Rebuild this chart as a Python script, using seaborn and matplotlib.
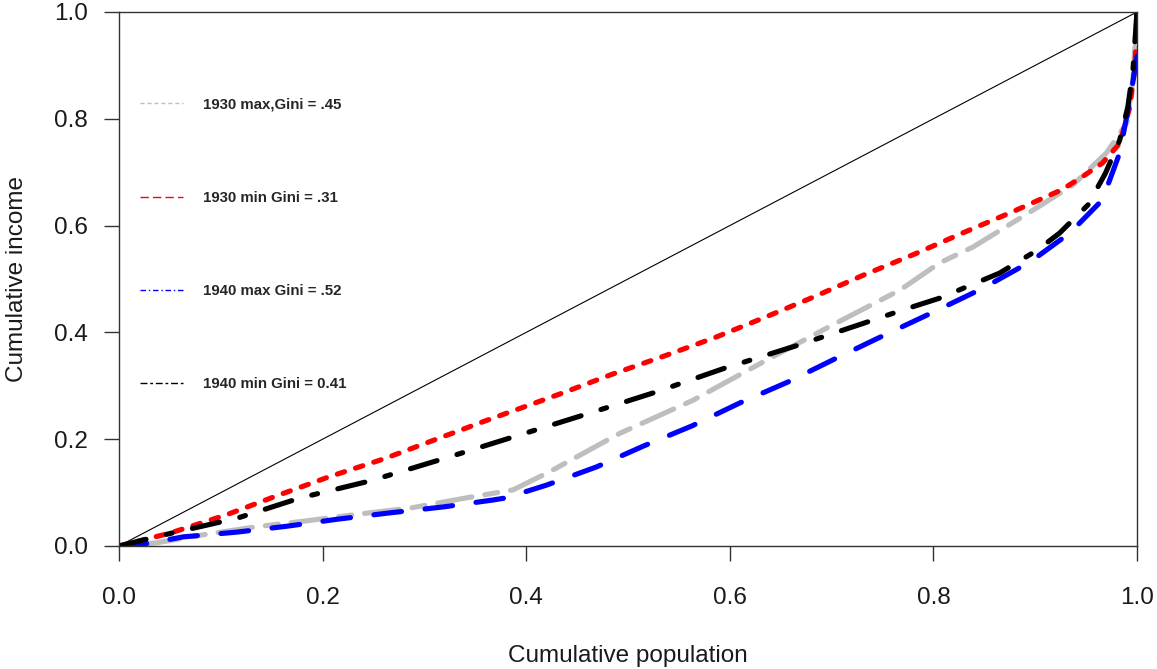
import matplotlib
matplotlib.use("Agg")
import numpy as np
import pandas as pd
import seaborn as sns
import matplotlib.pyplot as plt
from matplotlib.lines import Line2D

#lorenz curves
x_30max = [0, 0.037, 0.086, 0.135, 0.184, 0.237, 0.286, 0.341, 0.387, 0.423, 0.492, 0.564,
           0.636, 0.701, 0.767, 0.806, 0.839, 0.898, 0.937, 0.97, 0.99, 0.996, 1.0]
y_30max = [0, 0.006, 0.022, 0.036, 0.047, 0.06, 0.071, 0.09, 0.105, 0.139, 0.211, 0.273,
           0.348, 0.414, 0.479, 0.53, 0.56, 0.629, 0.676, 0.736, 0.792, 0.873, 1.0]

x_30min = [0, 0.05, 0.105, 0.155, 0.207, 0.26, 0.309, 0.358, 0.409, 0.435, 0.485, 0.536, 0.585,
           0.633, 0.682, 0.731, 0.782, 0.831, 0.878, 0.926, 0.946, 0.966, 0.983, 0.993, 0.998, 1.0]
y_30min = [0, 0.024, 0.058, 0.094, 0.130, 0.163, 0.198, 0.233, 0.268, 0.286, 0.322, 0.356, 0.39,
           0.427, 0.466, 0.507, 0.547, 0.588, 0.626, 0.667, 0.691, 0.717, 0.754, 0.822, 0.897, 1.0]

x_40max = [0, 0.02, 0.063, 0.116, 0.165, 0.214, 0.266, 0.318, 0.367, 0.38, 0.42, 0.469, 0.515, 0.563,
           0.61, 0.657, 0.705, 0.752, 0.8, 0.849, 0.895, 0.934, 0.966, 0.983, 0.993, 1.0, 1.0]
y_40max = [0, 0.002, 0.017, 0.026, 0.037, 0.05, 0.062, 0.073, 0.086, 0.09, 0.114, 0.148, 0.187, 0.225,
           0.268, 0.307, 0.352, 0.395, 0.438, 0.483, 0.532, 0.586, 0.648, 0.736, 0.835, 0.916, 1.0]

x_40min = [0, 0.047, 0.116, 0.178, 0.247, 0.318, 0.387, 0.456, 0.527, 0.595, 0.667, 0.736,
           0.77, 0.806, 0.865, 0.902, 0.924, 0.952, 0.969, 0.983, 0.991, 0.996, 1.0]
y_40min = [0, 0.022, 0.052, 0.09, 0.122, 0.163, 0.204, 0.245, 0.288, 0.333, 0.376, 0.42,
           0.442, 0.464, 0.511, 0.554, 0.586, 0.639, 0.698, 0.76, 0.822, 0.89, 1.0]

labels = ["1930 max,Gini = .45", "1930 min Gini = .31", "1940 max Gini = .52", "1940 min Gini = 0.41"]
colors = ["#BEBEBE", "#FF0000", "#0000FF", "#000000"]
equality = [0, 1]
ticks = [0, 0.2, 0.4, 0.6, 0.8, 1.0]
tick_labels = ["0.0", "0.2", "0.4", "0.6", "0.8", "1.0"]

#dash patterns in points (not scaled by linewidth)
curve_dashes = [(9.4, 9.4, 25, 9.4), (5.5, 8.3), (20, 17), (20, 15, 4.3, 15)]
legend_dashes = [(3, 2), (6, 3), (4, 2, 1, 2), (5, 2, 2, 2)]

frames = []
for lab, xs, ys in zip(labels, [x_30max, x_30min, x_40max, x_40min], [y_30max, y_30min, y_40max, y_40min]):
    frames.append(pd.DataFrame({"pop": xs, "inc": ys, "series": lab}))
df = pd.concat(frames, ignore_index=True)

sns.set_style("white")
plt.rcParams["font.family"] = ["Liberation Sans", "DejaVu Sans"]
plt.rcParams["lines.scale_dashes"] = False

fig = plt.figure(figsize=(11.57, 6.69), dpi=100)
ax = fig.add_axes([0.1029, 0.1839, 0.8798, 0.7982])

ax.plot(equality, equality, color="black", lw=0.8)

sns.lineplot(data=df, x="pop", y="inc", hue="series", style="series", sort=False, estimator=None,
             palette=dict(zip(labels, colors)), dashes=dict(zip(labels, curve_dashes)),
             lw=3.7, dash_capstyle="round", legend=False, ax=ax)

ax.set_xlim(0, 1)
ax.set_ylim(0, 1)
ax.set_xticks(ticks)
ax.set_yticks(ticks)
ax.set_xticklabels(tick_labels)
ax.set_yticklabels(tick_labels)
ax.tick_params(axis="both", direction="out", length=10.8, width=1, colors="#333333",
               labelcolor="#1a1a1a", labelsize=17.5, left=True, bottom=True)
ax.tick_params(axis="x", pad=19)
ax.tick_params(axis="y", pad=11.5)
for s in ax.spines.values():
    s.set_visible(True)
    s.set_color("#333333")
    s.set_linewidth(1)

ax.set_xlabel("Cumulative population", fontsize=17.5, labelpad=26, color="#1a1a1a")
ax.set_ylabel("Cumulative income", fontsize=17.5, labelpad=19, color="#1a1a1a")

handles = [Line2D([], [], color=c, lw=1, dashes=d) for c, d in zip(colors, legend_dashes)]
leg = ax.legend(handles, labels, loc="upper left", bbox_to_anchor=(0.0, 0.879), frameon=False,
                handlelength=2.87, handletextpad=1.33, labelspacing=5.28, borderaxespad=1.0,
                prop={"weight": "bold", "size": 10.8})

fig.savefig("out.png", dpi=100)
